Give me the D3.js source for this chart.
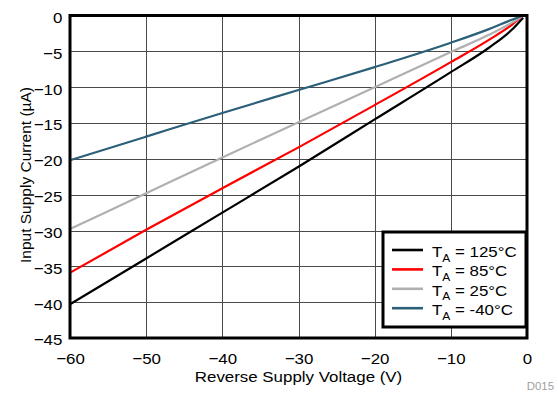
<html>
<head>
    <script src="https://d3js.org/d3.v7.min.js" charSet="utf-8"></script>
    <style>
        body { margin: 0; background: white; }
        .axis text {
            font-family: "Liberation Sans", Arial, sans-serif;
            font-size: 15.5px;
            fill: black;
        }
        .axis-label {
            font-family: "Liberation Sans", Arial, sans-serif;
            font-size: 15.5px;
        }
        .grid line { stroke: #4a4a4a; stroke-width: 1; shape-rendering: crispEdges; }
    </style>
</head>
<body>
<div id="vis_container"></div>
<script>
    // Reverse supply voltage (V) where the curves were read
    let volts = [-60, -50, -40, -30, -20, -10, -5, -2, -0.5];

    // Input supply current (uA) for each temperature
    let cur_125 = [-40.3, -33.9, -27.5, -21.1, -14.5, -7.9, -4.5, -2.0, -0.3];
    let cur_85 = [-35.9, -29.9, -24.1, -18.4, -12.5, -6.5, -3.4, -1.3, 0];
    let cur_25 = [-29.8, -24.8, -19.8, -14.9, -10.0, -5.1, -2.7, -1.0, 0];
    let cur_m40 = [-20.2, -16.9, -13.6, -10.4, -7.2, -3.8, -1.9, -0.6, 0];

    let series_names = ["125", "85", "25", "-40"];
    let series_colors = ["#000000", "#ff0000", "#b0b0b0", "#2c6079"];
    let series_values = [cur_125, cur_85, cur_25, cur_m40];

    let x_ticks = [-60, -50, -40, -30, -20, -10, 0];
    let y_ticks = [0, -5, -10, -15, -20, -25, -30, -35, -40, -45];

    let chart_w = 558, chart_h = 393;
    let plot_l = 70, plot_r = 527, plot_t = 15.5, plot_b = 338;
    // the original text is a bit wider than Arial, stretch it
    let stretch = "scale(1.09,1)";

    let svg = d3.select("#vis_container")
        .append("svg")
        .attr("width", chart_w)
        .attr("height", chart_h);

    let x = d3.scaleLinear().domain([-60, 0]).range([plot_l, plot_r]);
    let y = d3.scaleLinear().domain([0, -45]).range([plot_t, plot_b]);

    // grid lines
    let grid = svg.append("g").attr("class", "grid");
    grid.selectAll(".vx")
        .data(x_ticks)
        .enter().append("line")
        .attr("x1", d => Math.round(x(d)) + 0.5)
        .attr("x2", d => Math.round(x(d)) + 0.5)
        .attr("y1", plot_t).attr("y2", plot_b);
    grid.selectAll(".hy")
        .data(y_ticks)
        .enter().append("line")
        .attr("y1", d => Math.round(y(d)) + 0.5)
        .attr("y2", d => Math.round(y(d)) + 0.5)
        .attr("x1", plot_l).attr("x2", plot_r);

    // axes (labels only, no lines)
    let xAxis = svg.append("g")
        .attr("class", "axis")
        .attr("transform", "translate(0," + plot_b + ")")
        .call(d3.axisBottom(x).tickValues(x_ticks).tickSize(0).tickPadding(15));
    xAxis.select(".domain").remove();
    xAxis.selectAll("text").attr("transform", stretch);

    let yAxis = svg.append("g")
        .attr("class", "axis")
        .attr("transform", "translate(" + plot_l + ",0)")
        .call(d3.axisLeft(y).tickValues(y_ticks).tickSize(0).tickPadding(7));
    yAxis.select(".domain").remove();
    yAxis.selectAll("text").attr("dy", "0.45em").attr("transform", stretch);

    // curves
    let line = d3.line()
        .x((d, i) => x(volts[i]))
        .y(d => y(d))
        .curve(d3.curveMonotoneX);

    svg.selectAll(".curve")
        .data(series_values)
        .enter().append("path")
        .attr("class", "curve")
        .attr("fill", "none")
        .attr("stroke", (d, i) => series_colors[i])
        .attr("stroke-width", 2.2)
        .attr("d", line);

    // plot frame
    svg.append("rect")
        .attr("x", plot_l).attr("y", plot_t)
        .attr("width", plot_r - plot_l).attr("height", plot_b - plot_t)
        .attr("fill", "none")
        .attr("stroke", "black")
        .attr("stroke-width", 3);

    // axis titles
    svg.append("g")
        .attr("transform", "translate(" + ((plot_l + plot_r) / 2) + ",382) " + stretch)
        .append("text")
        .attr("class", "axis-label")
        .style("text-anchor", "middle")
        .text("Reverse Supply Voltage (V)");

    svg.append("text")
        .attr("class", "axis-label")
        .attr("transform", "translate(31,175) rotate(-90)")
        .style("text-anchor", "middle")
        .text("Input Supply Current (\u00B5A)");

    svg.append("g")
        .attr("transform", "translate(554,390) " + stretch)
        .append("text")
        .style("text-anchor", "end")
        .style("font-family", "Liberation Sans, Arial, sans-serif")
        .style("font-size", "10.5px")
        .style("fill", "#a0a0a0")
        .text("D015");

    // legend
    let legend = svg.append("g").attr("transform", "translate(383,232)");
    legend.append("rect")
        .attr("width", 143).attr("height", 95)
        .attr("fill", "white")
        .attr("stroke", "black")
        .attr("stroke-width", 3);

    let items = legend.selectAll(".item")
        .data(series_names)
        .enter().append("g")
        .attr("transform", (d, i) => "translate(0," + (18 + i * 19.4) + ")");
    items.append("line")
        .attr("x1", 9).attr("x2", 40)
        .attr("y1", 0).attr("y2", 0)
        .attr("stroke", (d, i) => series_colors[i])
        .attr("stroke-width", 2.6);
    let txt = items.append("g")
        .attr("transform", "translate(49,7) " + stretch)
        .append("text")
        .style("font-family", "Liberation Sans, Arial, sans-serif")
        .style("font-size", "15.5px");
    txt.append("tspan").text("T");
    txt.append("tspan").attr("dy", 4.5).style("font-size", "11px").text("A");
    txt.append("tspan").attr("dy", -4.5).text(d => " = " + d + "\u00B0C");
</script>
</body>
</html>
